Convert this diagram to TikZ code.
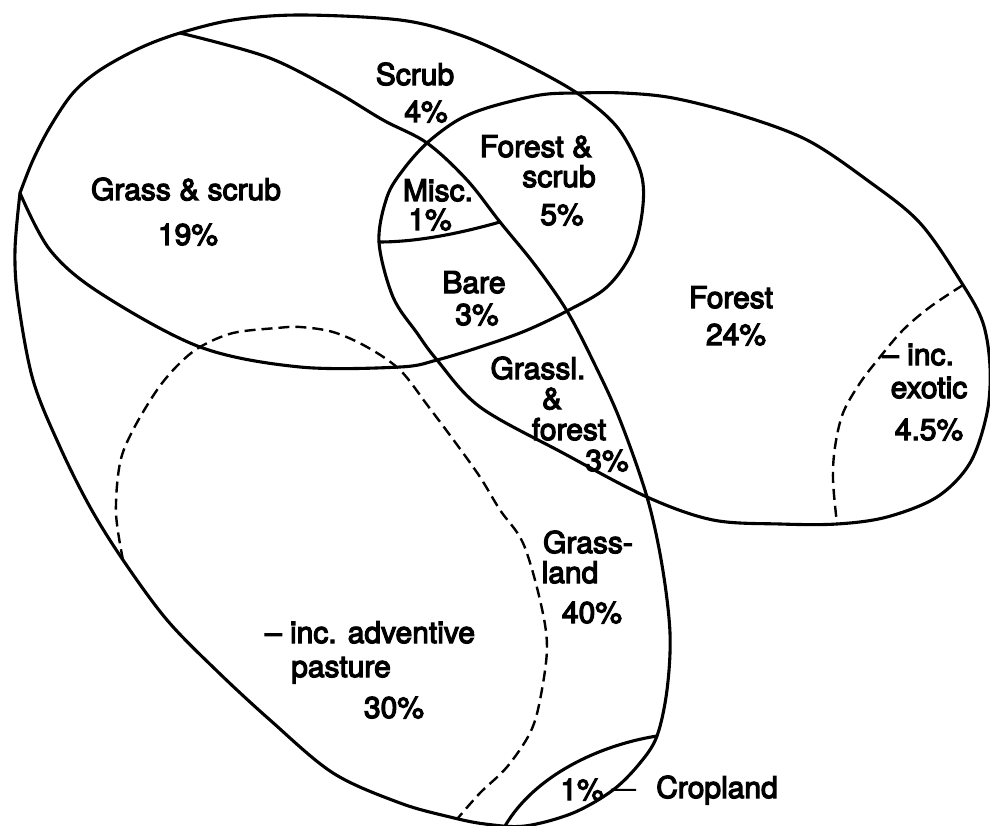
\documentclass[tikz,border=0pt]{standalone}
\usepackage{fontspec}
\setmainfont{TeX Gyre Heros}
\newfontfamily\lblfont{TeX Gyre Heros}[FakeBold=4]
\begin{document}
\begin{tikzpicture}[x=1pt,y=-1pt,
  edge/.style={line width=3.1pt, line join=round, line cap=round},
  dashline/.style={line width=2.4pt, dash pattern=on 11pt off 6pt},
  lbl/.style={font=\lblfont\fontsize{30}{30}\selectfont, inner sep=0pt, anchor=base}]
\useasboundingbox (0,0) rectangle (990,826);

% Scrub ellipse (upper left), drawn from its left junction round to it again
\draw[edge] plot[smooth, tension=0.55] coordinates {
 (20,193) (33,160) (50,127) (73,93) (100,70) (140,48) (180,33)
 (233,20) (300,15) (400,20) (460,35) (517,60) (577,93) (617,127) (640,170)
 (643,205) (633,250) (607,287) (567,311) (525,331) (480,347) (437,360)
 (400,367) (300,367) (200,347) (100,293) (50,250) (20,193)};

% Grassland egg (shares the upper-left arc with the scrub ellipse)
\draw[edge] plot[smooth, tension=0.55] coordinates {
 (180,33) (267,57) (333,90) (383,120) (427,143) (467,180) (500,222)
 (535,265) (567,311) (595,365) (620,420) (647,497) (662,565) (670,633)
 (667,690) (657,736) (640,763) (613,790) (573,813) (525,826) (485,824)
 (450,817) (400,803) (333,773) (270,720) (217,671) (167,620) (123,560)
 (90,507) (60,447) (33,380) (18,300) (15,250) (20,193)};

% Forest ellipse
\draw[edge] plot[smooth cycle, tension=0.55] coordinates {
 (379,242) (387,197) (403,170) (427,143) (458,120) (490,107) (540,95)
 (577,93) (623,93) (673,98) (740,115) (807,140) (867,180) (920,223)
 (963,285) (983,323) (990,367) (987,413) (970,463) (937,497) (887,517)
 (837,524) (780,524) (713,520) (647,497) (563,453) (480,407) (437,360)
 (417,333) (393,297)};

% Misc / Bare divider
\coordinate (mA) at (379,242);
\coordinate (mB) at (500,222);
\draw[edge] (mA) .. controls (420,242) and (465,232) .. (mB);

% Cropland divider
\coordinate (cA) at (657,736);
\coordinate (cB) at (505,826);
\draw[edge] (cA) .. controls (600,745) and (535,775) .. (cB);

% adventive pasture (dashed)
\draw[dashline] plot[smooth, tension=0.55] coordinates {
 (123,560) (116,513) (120,463) (133,430) (157,390) (178,365) (200,347)
 (233,333) (277,328) (300,327) (333,332) (367,347) (400,370) (428,406)
 (455,442) (480,477) (500,510) (523,543) (540,600) (547,647) (540,700)
 (530,733) (507,767) (480,793) (458,818)};

% exotic forest (dashed)
\draw[dashline] plot[smooth, tension=0.55] coordinates {
 (963,285) (930,307) (903,330) (880,357) (860,383) (843,413) (835,447)
 (833,480) (837,524)};

% labels
\node[lbl] (scrubA) at (415,85) {Scrub};
\node[lbl] (scrubB) at (426,122) {4\%};
\node[lbl] (gsA) at (186,200) {Grass \& scrub};
\node[lbl] (gsB) at (188,245) {19\%};
\node[lbl] (miscA) at (438,201) {Misc.};
\node[lbl] (miscB) at (430,230) {1\%};
\node[lbl] (bareA) at (474,293) {Bare};
\node[lbl] (bareB) at (477,325) {3\%};
\node[lbl] (fsA) at (536,157) {Forest \&};
\node[lbl] (fsB) at (559,187) {scrub};
\node[lbl] (fsC) at (562,225) {5\%};
\node[lbl] (forA) at (731,308) {Forest};
\node[lbl] (forB) at (736,345) {24\%};
\node[lbl] (exA) at (918,365) {– inc.};
\node[lbl] (exB) at (929,398) {exotic};
\node[lbl] (exC) at (929,440) {4.5\%};
\node[lbl] (gfA) at (538,379) {Grassl.};
\node[lbl] (gfB) at (552,409) {\&};
\node[lbl] (gfC) at (569,440) {forest};
\node[lbl] (gfD) at (607,471) {3\%};
\node[lbl] (glA) at (588,553) {Grass-};
\node[lbl] (glB) at (570,583) {land};
\node[lbl] (glC) at (592,623) {40\%};
\node[lbl] (apA) at (370,643) {– inc. adventive};
\node[lbl] (apB) at (341,677) {pasture};
\node[lbl] (apC) at (394,718) {30\%};
\node[lbl] (cropPct) at (582,800) {1\%};
\node[lbl] (cropLbl) at (717,798) {Cropland};
\draw[line width=2pt, shorten <=7pt, shorten >=20pt] (cropPct.east) -- (cropLbl.west);
\end{tikzpicture}
\end{document}
